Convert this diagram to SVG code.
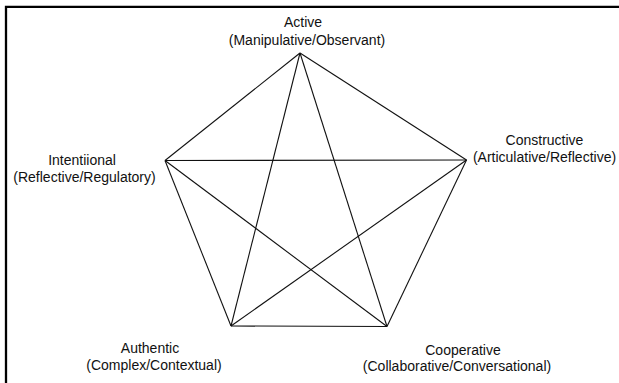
<svg xmlns="http://www.w3.org/2000/svg" width="619" height="383" viewBox="0 0 619 383">
<style>
text{font-family:"Liberation Sans",Arial,sans-serif;font-size:14px;fill:#111;text-anchor:middle}
.c{stroke:#111;stroke-width:1.1;fill:none}
</style>
<rect width="619" height="383" fill="#fff"/>
<path d="M6,383 V6.8 H619" fill="none" stroke="#000" stroke-width="2.3"/>
<g id="connectors" class="c">
<line x1="300" y1="53" x2="466.5" y2="160"/>
<line x1="466.5" y1="160" x2="387" y2="326.5"/>
<line x1="387" y1="326.5" x2="231" y2="326"/>
<line x1="231" y1="326" x2="165" y2="160.5"/>
<line x1="165" y1="160.5" x2="300" y2="53"/>
<line x1="300" y1="53" x2="231" y2="326"/>
<line x1="300" y1="53" x2="387" y2="326.5"/>
<line x1="165" y1="160.5" x2="466.5" y2="160"/>
<line x1="165" y1="160.5" x2="387" y2="326.5"/>
<line x1="466.5" y1="160" x2="231" y2="326"/>
</g>
<g id="active">
<text x="303" y="27">Active</text>
<text x="307" y="45">(Manipulative/Observant)</text>
</g>
<g id="constructive">
<text x="544.5" y="145">Constructive</text>
<text x="544.5" y="162">(Articulative/Reflective)</text>
</g>
<g id="cooperative">
<text x="463" y="355">Cooperative</text>
<text x="457" y="371">(Collaborative/Conversational)</text>
</g>
<g id="authentic">
<text x="150" y="353">Authentic</text>
<text x="154" y="370">(Complex/Contextual)</text>
</g>
<g id="intentional">
<text x="82" y="165">Intentiional</text>
<text x="84.5" y="182">(Reflective/Regulatory)</text>
</g>
</svg>
